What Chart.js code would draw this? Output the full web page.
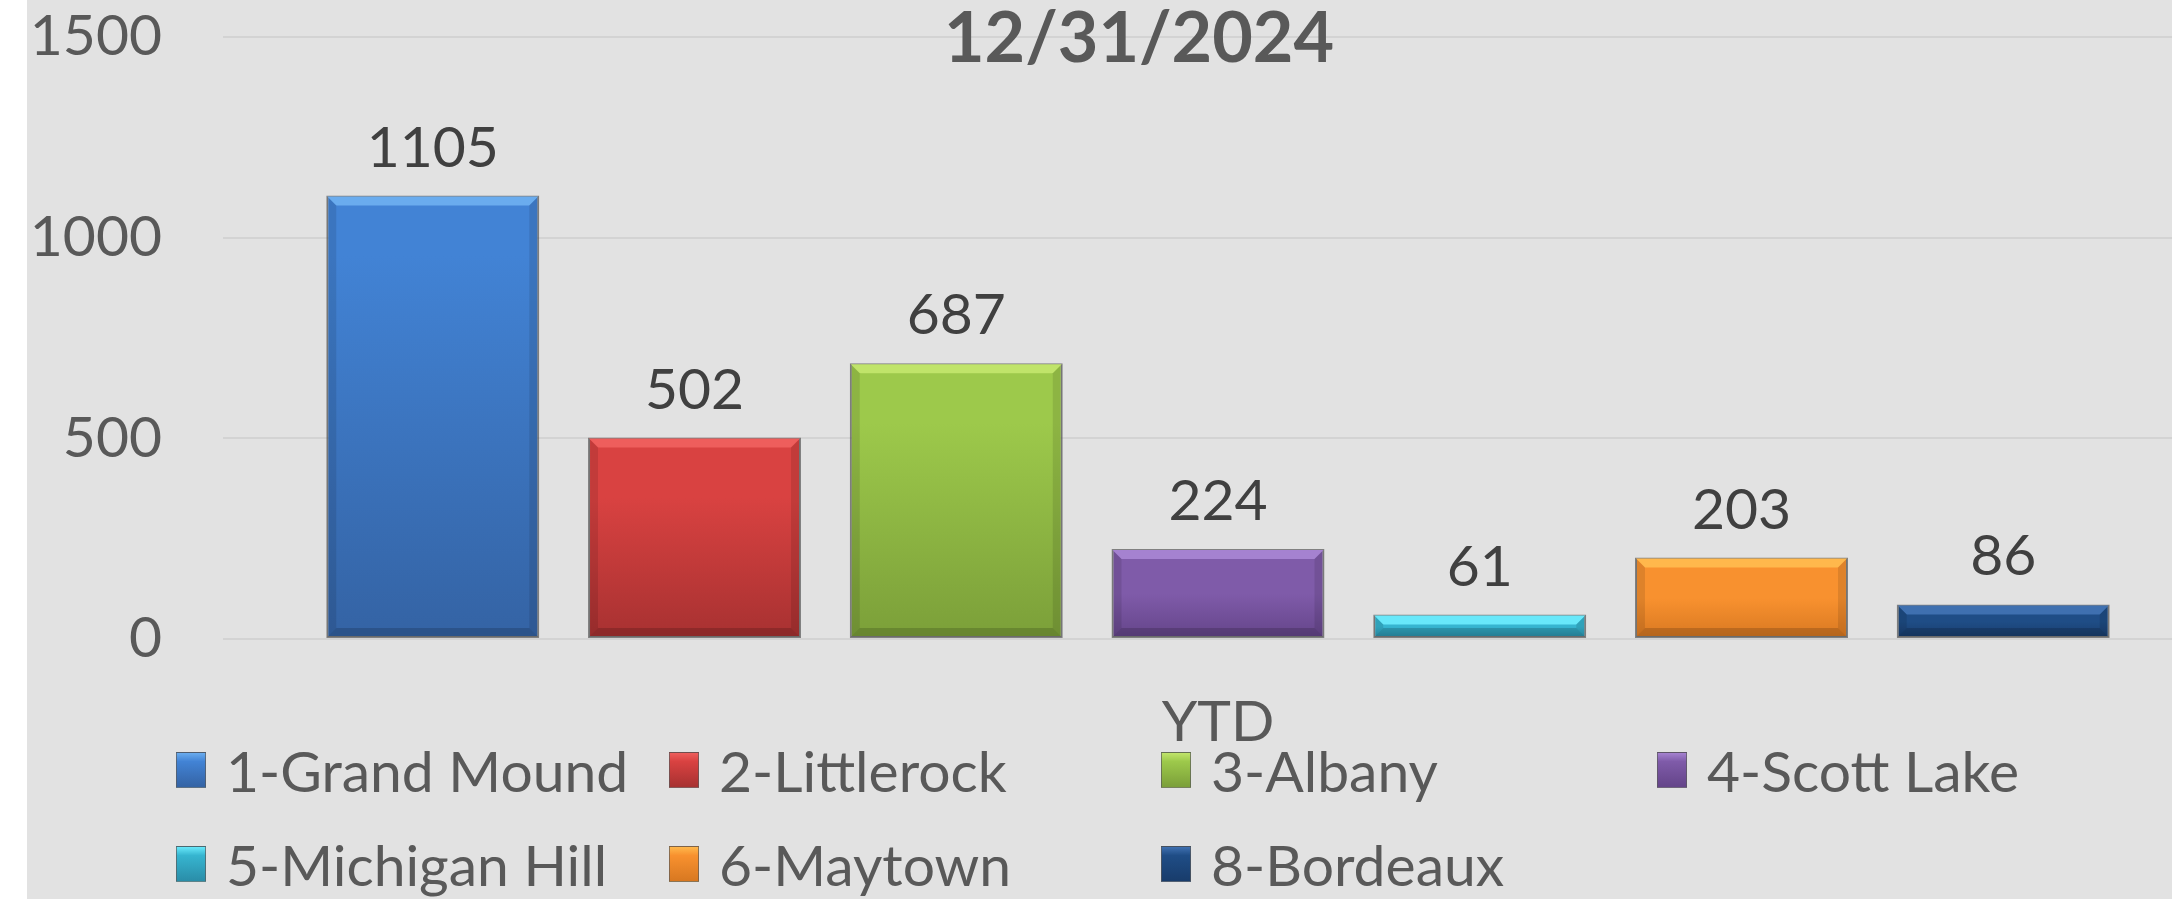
<!DOCTYPE html>
<html>
<head>
<meta charset="utf-8">
<script src="https://cdn.jsdelivr.net/npm/chart.js@4.4.1/dist/chart.umd.min.js"></script>
<style>
  html, body { margin: 0; padding: 0; background: #fff; overflow: hidden; }
  #wrap {
    position: absolute; left: 27px; top: 0;
    width: 2145px; height: 899px;
    overflow: hidden; background: #e2e2e2;
  }
  #myChart { display: block; }
  #leyenda { position: absolute; left: 0; top: 0; }
  .item {
    position: absolute; height: 94px;
    display: flex; align-items: center;
    font-family: Lato, "Open Sans", sans-serif; font-size: 57px;
    color: #595959; white-space: nowrap; line-height: 1.2;
  }
  .marca {
    width: 28px; height: 34px; margin-right: 20px;
    border: 1px solid rgba(90,90,90,0.7);
    box-sizing: content-box;
  }
</style>
</head>
<body>
<div id="wrap"><canvas id="myChart" width="2224" height="899"></canvas></div>
<div id="leyenda"></div>
<script>
// Datos
const categorias = ["YTD"];
const sedes = ["1-Grand Mound", "2-Littlerock", "3-Albany", "4-Scott Lake", "5-Michigan Hill", "6-Maytown", "8-Bordeaux"];
const valoresYTD = [1105, 502, 687, 224, 61, 203, 86];
const ticksY = [0, 500, 1000, 1500];
const titulo = "12/31/2024";

// Colores (claro arriba, medio, oscuro abajo)
const coloresClaros = ["#6aacee", "#ee5e5c", "#c0e46a", "#a582d0", "#68e8fa", "#ffb84c", "#3f70b0"];
const coloresMedios = ["#4283d5", "#d94241", "#9dc94b", "#7f5ba9", "#36b5d0", "#f8912f", "#1f4d86"];
const coloresOscuros = ["#3463a4", "#a73131", "#7b9f39", "#644489", "#2a8da8", "#d87821", "#183c6b"];

const fuente = "Lato, 'Open Sans', sans-serif";

// Relleno degradado para cada barra
function degradado(ctx) {
    const i = ctx.datasetIndex;
    const chart = ctx.chart;
    if (!chart.chartArea || ctx.raw == null) return coloresMedios[i];
    const y = chart.scales.y;
    const arriba = y.getPixelForValue(ctx.raw);
    const abajo = y.getPixelForValue(0);
    const alto = Math.max(abajo - arriba, 1);
    const g = chart.ctx.createLinearGradient(0, arriba, 0, abajo);
    g.addColorStop(0, coloresMedios[i]);
    g.addColorStop(Math.min(0.5, 60 / alto), coloresMedios[i]);
    g.addColorStop(1, coloresOscuros[i]);
    return g;
}

// Bisel y etiquetas de valor
const biselPlugin = {
    id: "bisel",
    afterDatasetsDraw(chart) {
        const ctx = chart.ctx;
        ctx.save();
        chart.data.datasets.forEach((ds, i) => {
            const meta = chart.getDatasetMeta(i);
            meta.data.forEach((bar) => {
                const izq = bar.x - bar.width / 2 + 1;
                const der = bar.x + bar.width / 2 - 1;
                const arriba = bar.y + 1;
                const abajo = bar.base - 1;
                const b = Math.min(9, (abajo - arriba) / 2);
                // borde superior claro
                ctx.fillStyle = coloresClaros[i];
                ctx.beginPath();
                ctx.moveTo(izq, arriba);
                ctx.lineTo(der, arriba);
                ctx.lineTo(der - b, arriba + b);
                ctx.lineTo(izq + b, arriba + b);
                ctx.closePath();
                ctx.fill();
                // lados oscuros
                ctx.fillStyle = "rgba(0,0,0,0.10)";
                ctx.beginPath();
                ctx.moveTo(izq, arriba);
                ctx.lineTo(izq + b, arriba + b);
                ctx.lineTo(izq + b, abajo - b);
                ctx.lineTo(izq, abajo);
                ctx.closePath();
                ctx.fill();
                ctx.beginPath();
                ctx.moveTo(der, arriba);
                ctx.lineTo(der - b, arriba + b);
                ctx.lineTo(der - b, abajo - b);
                ctx.lineTo(der, abajo);
                ctx.closePath();
                ctx.fill();
                ctx.fillStyle = "rgba(0,0,0,0.16)";
                ctx.beginPath();
                ctx.moveTo(izq, abajo);
                ctx.lineTo(izq + b, abajo - b);
                ctx.lineTo(der - b, abajo - b);
                ctx.lineTo(der, abajo);
                ctx.closePath();
                ctx.fill();

                // valor encima de la barra
                ctx.fillStyle = "#404040";
                ctx.font = "57px " + fuente;
                ctx.textAlign = "center";
                ctx.textBaseline = "alphabetic";
                ctx.fillText(String(ds.data[0]), bar.x, bar.y - 29);
            });
        });
        ctx.restore();
    },
};

// Titulo encima de la grilla (como en el original)
const tituloPlugin = {
    id: "tituloFecha",
    afterDraw(chart) {
        const ctx = chart.ctx;
        ctx.save();
        ctx.fillStyle = "#595959";
        ctx.font = "bold 70px " + fuente;
        ctx.textAlign = "center";
        ctx.textBaseline = "alphabetic";
        ctx.fillText(titulo, chart.width / 2, 62);
        ctx.restore();
    },
};

// Grafico
const ctx = document.getElementById("myChart");
const myChart = new Chart(ctx, {
    type: "bar",
    data: {
        labels: categorias,
        datasets: sedes.map((sede, i) => ({
            label: sede,
            data: [valoresYTD[i]],
            backgroundColor: degradado,
            borderColor: "rgba(95,95,95,0.75)",
            borderWidth: 2,
            borderSkipped: false,
            categoryPercentage: 0.9207,
            barPercentage: 0.8138,
        })),
    },
    plugins: [biselPlugin, tituloPlugin],
    options: {
        responsive: false,
        animation: false,
        devicePixelRatio: 1,
        layout: { padding: { left: 0, right: 38, top: 37, bottom: 0 } },
        plugins: {
            legend: { display: false },
            tooltip: { enabled: false },
            title: { display: false },
        },
        scales: {
            x: {
                grid: { display: false, drawTicks: false },
                border: { display: false },
                ticks: {
                    color: "#595959",
                    font: { family: fuente, size: 57 },
                    padding: 49,
                },
                afterFit(scale) {
                    scale.height = 260;
                    scale.paddingLeft = 0;
                    scale.paddingRight = 0;
                },
            },
            y: {
                min: 0,
                max: 1500,
                afterBuildTicks(scale) {
                    scale.ticks = ticksY.map((v) => ({ value: v }));
                },
                grid: { color: "#d3d3d3", lineWidth: 2, drawTicks: false },
                border: { display: false },
                ticks: {
                    color: "#595959",
                    font: { family: fuente, size: 57 },
                    padding: 61,
                    callback: (value) => String(value),
                },
                afterFit(scale) {
                    scale.width = 196;
                    scale.paddingTop = 0;
                    scale.paddingBottom = 0;
                },
            },
        },
    },
});

// Leyenda en HTML (columnas fijas como en el original)
const leyenda = document.getElementById("leyenda");
const columnasX = [176, 669, 1161, 1657];
const filasY = [723, 817];
sedes.forEach((sede, i) => {
    const item = document.createElement("div");
    item.className = "item";
    item.style.left = columnasX[i % 4] + "px";
    item.style.top = filasY[Math.floor(i / 4)] + "px";
    const marca = document.createElement("span");
    marca.className = "marca";
    marca.style.background = `linear-gradient(to bottom, ${coloresClaros[i]} 0%, ${coloresMedios[i]} 25%, ${coloresOscuros[i]} 100%)`;
    const texto = document.createElement("span");
    texto.textContent = sede;
    item.appendChild(marca);
    item.appendChild(texto);
    leyenda.appendChild(item);
});
</script>
</body>
</html>
